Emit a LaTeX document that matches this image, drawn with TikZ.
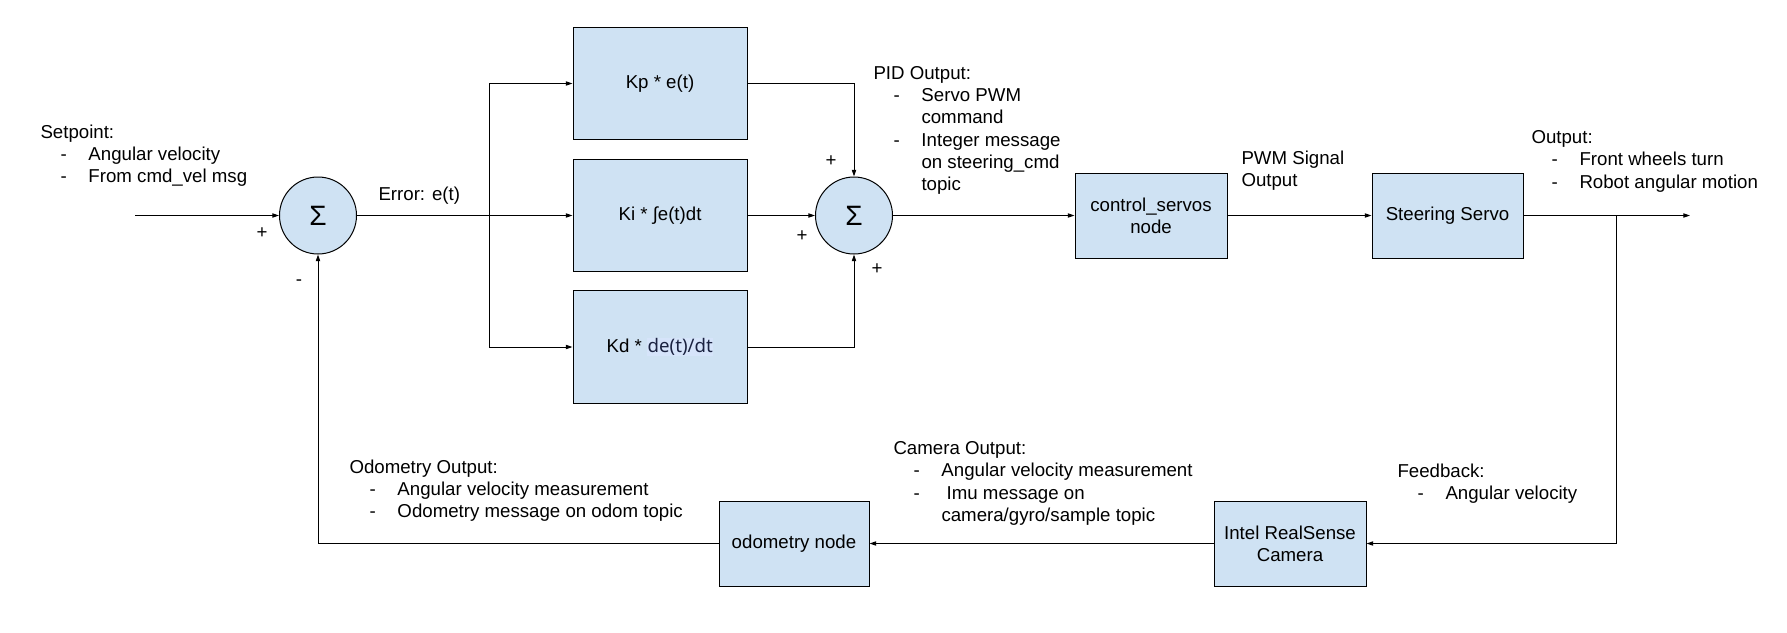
\documentclass[tikz,border=0pt]{standalone}
\usepackage{fontspec}
\setmainfont{Liberation Sans}
\newfontfamily\notofont{Noto Sans}
\usetikzlibrary{arrows.meta}
\definecolor{boxfill}{HTML}{CFE2F3}
\definecolor{navytxt}{HTML}{1A2240}
\definecolor{hltxt}{HTML}{D6E4FA}
\newcommand\li[1]{\hspace*{15pt}\makebox[21pt][l]{-}#1}
\newcommand\ct{\hspace*{36pt}}
\begin{document}
\begin{tikzpicture}[x=0.75pt,y=-0.75pt,
  font=\fontsize{14}{16.75}\selectfont,
  line width=0.75pt,
  >={Triangle[length=5pt,width=3.2pt]},
  blk/.style={draw, fill=boxfill, inner sep=0pt, align=center},
  pidblk/.style={blk, minimum width=130.5pt, minimum height=84.5pt},
  nodeblk/.style={blk, minimum width=114pt, minimum height=63.75pt},
  sumc/.style={circle, draw, fill=boxfill, minimum size=57.75pt, inner sep=0pt, font=\fontsize{21}{21}\selectfont},
  lbl/.style={anchor=north west, inner sep=0pt, align=left},
  sgn/.style={inner sep=0pt}]
\useasboundingbox (0,0) rectangle (1787,632);

% blocks
\node[sumc] (s1) at (318,215.5) {Σ};
\node[sumc] (s2) at (854,215.5) {Σ};
\node[pidblk] (kp) at (660,83.5) {Kp * e(t)};
\node[pidblk] (ki) at (660,215.5) {Ki * ∫e(t)dt};
\node[pidblk] (kd) at (660,347) {Kd * {\setlength\fboxsep{0.5pt}\colorbox{hltxt}{\color{navytxt}\notofont de(t)/dt}}};
\node[nodeblk] (cs) at (1151,215.5) {control\_servos\\node};
\node[nodeblk, minimum width=113.25pt] (ss) at (1447.5,215.5) {Steering Servo};
\node[nodeblk, minimum width=112.5pt] (od) at (794,543.5) {odometry node};
\node[nodeblk] (cam) at (1290,543.5) {Intel RealSense\\Camera};

% free ends
\coordinate (in) at (135,215.5);
\coordinate (jn) at (489,215.5);
\coordinate (out) at (1690,215.5);
\coordinate (br) at (1616,215.5);

% connectors
\draw[->] (in) -- (s1);
\draw (s1) -- (jn);
\draw[->] (jn) -- (ki);
\draw[->] (jn) |- (kp);
\draw[->] (jn) |- (kd);
\draw[->] (kp) -| (s2);
\draw[->] (ki) -- (s2);
\draw[->] (kd) -| (s2);
\draw[->] (s2) -- (cs);
\draw[->] (cs) -- (ss);
\draw[->] (ss) -- (out);
\draw[->] (br) |- (cam);
\draw[->] (cam) -- (od);
\draw[->] (od) -| (s1);

% signs
\node[sgn] (p1) at (262,233) {+};
\node[sgn] (m1) at (299,283) {-};
\node[sgn] (p2) at (831,161) {+};
\node[sgn] (p3) at (802,236) {+};
\node[sgn] (p4) at (877,269) {+};

% labels
\node[lbl] (lsp) at (40,124) {Setpoint:\\\li{Angular velocity}\\\li{From cmd\_vel msg}};
\node[anchor=base west, inner sep=0pt] (lerr) at (378,200) {Error: e(t)};
\node[lbl] (lpid) at (873,65.5) {PID Output:\\\li{Servo PWM}\\\ct command\\\li{Integer message}\\\ct on steering\_cmd\\\ct topic};
\node[lbl] (lpwm) at (1241,150) {PWM Signal\\Output};
\node[lbl] (lout) at (1531,130) {Output:\\\li{Front wheels turn}\\\li{Robot angular motion}};
\node[lbl] (lodo) at (349,459) {Odometry Output:\\\li{Angular velocity measurement}\\\li{Odometry message on odom topic}};
\node[lbl] (lcam) at (893,441) {Camera Output:\\\li{Angular velocity measurement}\\\li{\ Imu message on}\\\ct camera/gyro/sample topic};
\node[lbl] (lfb) at (1397,463) {Feedback:\\\li{Angular velocity}};
\end{tikzpicture}
\end{document}
